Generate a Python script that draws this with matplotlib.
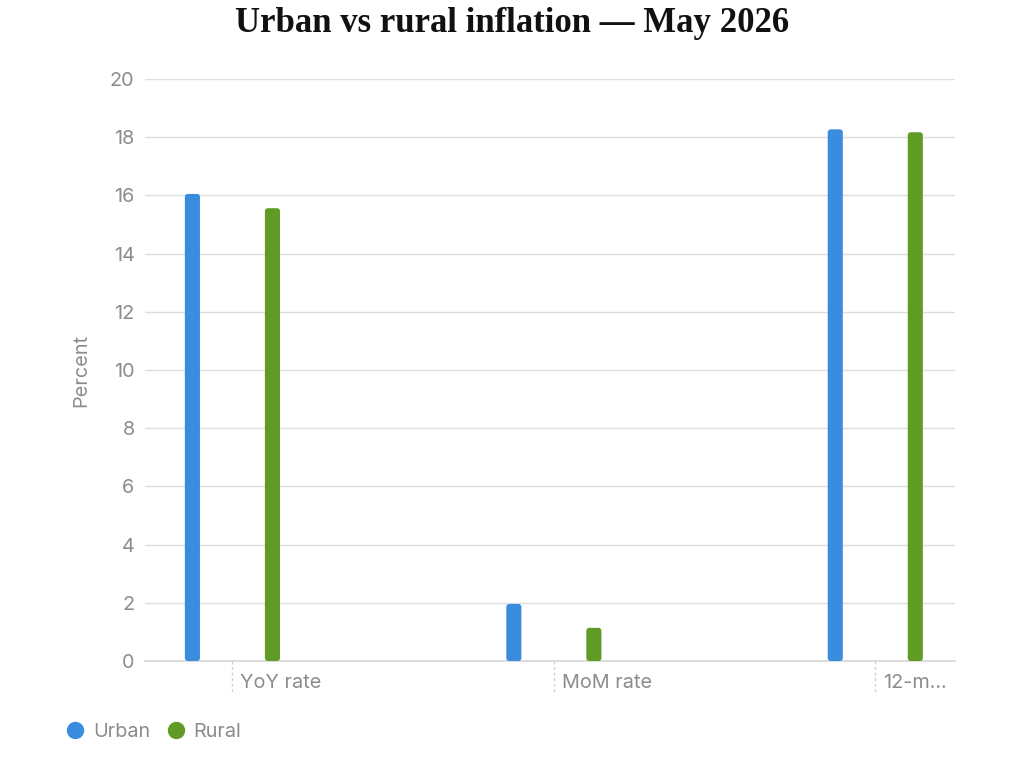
import matplotlib
matplotlib.use("Agg")
import matplotlib.pyplot as plt
from matplotlib.patches import FancyBboxPatch
from matplotlib.lines import Line2D
import numpy as np

categories = ["YoY rate", "MoM rate", "12-m..."]
urban = [16.05, 1.96, 18.27]
rural = [15.56, 1.14, 18.17]
yticks = [0, 2, 4, 6, 8, 10, 12, 14, 16, 18, 20]

BLUE = "#3a8dde"
GREEN = "#5f9b25"
GRAY_TXT = "#8c8c8c"
GRID = "#dedede"
FONT = "Inter"
FS = 14.3

fig = plt.figure(figsize=(10.24, 7.69), dpi=100)
ax = fig.add_axes([145/1024, 1-661/769, 810/1024, 582/769])

x = np.arange(len(categories))
off = 0.1245
w = 0.047
b1 = ax.bar(x - off, urban, width=w, color=BLUE, zorder=3)
b2 = ax.bar(x + off, rural, width=w, color=GREEN, zorder=3)

xlim = (-0.272, 2.248)
ax.set_xlim(*xlim)
ax.set_ylim(0, 20)

# rounded bars
xpp = (xlim[1]-xlim[0]) / 810.0
ypp = 20.0 / 582.0
aspect = ypp / xpp
for bars, col in ((b1, BLUE), (b2, GREEN)):
    for p in bars:
        bx, by = p.get_x(), p.get_y()
        bw, bh = p.get_width(), p.get_height()
        p.set_visible(False)
        fp = FancyBboxPatch((bx, by), bw, bh,
                            boxstyle="round,pad=0,rounding_size=%f" % (3*xpp),
                            mutation_aspect=aspect, facecolor=col,
                            edgecolor="none", zorder=3)
        ax.add_patch(fp)

for s in ax.spines.values():
    s.set_visible(False)
ax.set_yticks(yticks)
ax.set_yticklabels([str(v) for v in yticks], fontsize=FS, color=GRAY_TXT,
                   family=FONT)
ax.tick_params(axis="y", length=0, pad=7.5)
ax.grid(axis="y", color=GRID, linewidth=1, zorder=0)
ax.axhline(0, color="#d6d6d6", lw=1.2, zorder=2, clip_on=False)
ax.set_xticks([])
ax.set_xticklabels([])

# category ticks (dashed) with left-aligned labels
for xi, lab in zip(x, categories):
    ax.plot([xi, xi], [0, -1.05], color="#cfcfcf", lw=1, ls=(0, (2, 2)),
            clip_on=False, zorder=1)
    ax.text(xi + 8*xpp, -0.75, lab, ha="left", va="center", fontsize=FS,
            color=GRAY_TXT, family=FONT, clip_on=False)

ax.set_ylabel("Percent", fontsize=FS, color=GRAY_TXT, family=FONT,
              labelpad=14)

fig.text(0.5, 1-32/769, "Urban vs rural inflation \u2014 May 2026",
         ha="center", va="baseline", fontsize=25, fontweight="bold",
         family="Liberation Serif", color="#111111")

handles = [Line2D([], [], marker="o", ls="", color=BLUE, markersize=11.5),
           Line2D([], [], marker="o", ls="", color=GREEN, markersize=11.5)]
fig.legend(handles, ["Urban", "Rural"], loc="center left",
           bbox_to_anchor=(65/1024, 1-732/769), frameon=False, ncol=2,
           prop={"family": FONT, "size": FS}, labelcolor=GRAY_TXT,
           handletextpad=0.4, columnspacing=0.8, handlelength=1.0,
           borderaxespad=0, borderpad=0)

fig.savefig("out.png", dpi=100, facecolor="white")
